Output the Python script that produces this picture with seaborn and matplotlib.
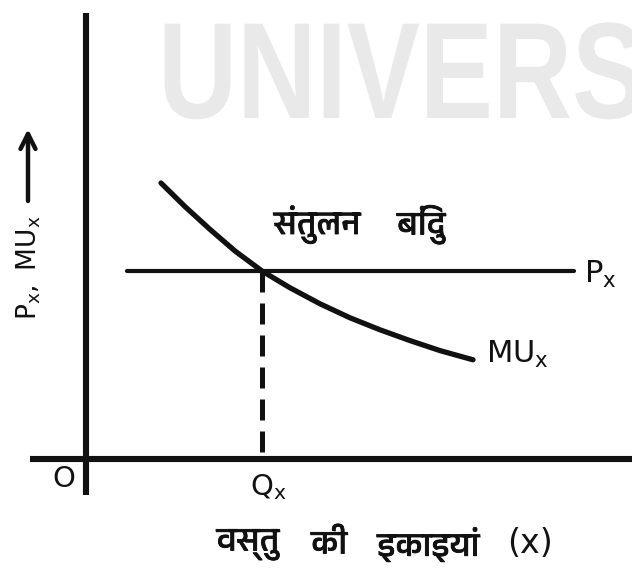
import matplotlib
matplotlib.use("Agg")
import matplotlib.pyplot as plt
import matplotlib.patheffects as pe
import pandas as pd
import seaborn as sns
from matplotlib import font_manager
from matplotlib.font_manager import FontProperties
from matplotlib.textpath import TextPath
from matplotlib.patches import PathPatch
from matplotlib.transforms import Affine2D, IdentityTransform

# Marginal utility of good x (units of x, utility per unit)
mu_quantity = [1.875, 2.475, 3.10, 3.725, 4.40, 5.10, 5.85, 6.60, 7.35,
               8.10, 8.85, 9.675]
mu_values = [6.90, 6.31, 5.74, 5.20, 4.70, 4.28, 3.88, 3.53, 3.23,
             2.96, 2.71, 2.48]

# Price line of good x
price_level = 4.7
price_span = [1.03, 12.2]

# Equilibrium quantity
q_equilibrium = 4.4

# Axis extents
x_axis_span = [-1.4, 13.8]
y_axis_span = [-0.9, 11.15]

# Annotation words and where each one sits along the x axis
eq_words = ["संतुलन", "बिंदु"]
eq_word_x = [5.78, 8.38]
x_words = ["वस्तु", "की", "इकाइयां"]
x_word_x = [4.05, 6.08, 8.56]
x_symbol = "(x)"
x_symbol_x = 11.09

label_y = r"$\mathregular{P_x,\ MU_x}$"
label_px = r"$\mathregular{P_x}$"
label_mu = r"$\mathregular{MU_x}$"
label_q = r"$\mathregular{Q_x}$"
label_o = "O"

sns.set_theme(style="white")

deva_fonts = sorted({f.name for f in font_manager.fontManager.ttflist
                     if "Devanagari" in f.name or f.name in ("Lohit Hindi", "FreeSans", "Mukta")})
deva_family = deva_fonts + ["DejaVu Sans"]
plt.rcParams["font.family"] = ["DejaVu Sans"]
plt.rcParams["mathtext.fontset"] = "dejavusans"

W, H = 632, 569
fig = plt.figure(figsize=(W / 100, H / 100), dpi=100)
ax = fig.add_axes([0, 0, 1, 1])
ax.set_xlim(-86 / 40, (W - 86) / 40)
ax.set_ylim((459 - H) / 40, 459 / 40)
ax.axis("off")

# Watermark lettering in the background
wm_prop = FontProperties(family="Liberation Sans", weight="bold")
wm_path = TextPath((0, 0), "UNIVERSITY", size=137, prop=wm_prop)
wm_tr = Affine2D().scale(0.8, 1.0).translate(158, H - 118)
ax.add_patch(PathPatch(wm_tr.transform_path(wm_path), facecolor="#e9e9e9",
                       edgecolor="none", transform=IdentityTransform(), zorder=0))

ink = "#111111"
heavy = [pe.withStroke(linewidth=0.6, foreground=ink)]

# Axes drawn as thick lines
ax.plot([0, 0], y_axis_span, color=ink, lw=4.4, solid_capstyle="butt", zorder=3)
ax.plot(x_axis_span, [0, 0], color=ink, lw=4.4, solid_capstyle="butt", zorder=3)

# Price line
price_df = pd.DataFrame({"q": price_span, "p": [price_level] * 2})
sns.lineplot(data=price_df, x="q", y="p", ax=ax, color=ink, lw=3.0,
             estimator=None, sort=False, zorder=4)

# Marginal utility curve
mu_df = pd.DataFrame({"q": mu_quantity, "mu": mu_values})
sns.lineplot(data=mu_df, x="q", y="mu", ax=ax, color=ink, lw=3.8,
             estimator=None, sort=False, zorder=4,
             solid_capstyle="round", solid_joinstyle="round")

# Drop line to the equilibrium quantity
ax.plot([q_equilibrium, q_equilibrium], [price_level, 0], color=ink, lw=3.6,
        linestyle=(0, (4.2, 2.2)), dash_capstyle="butt", zorder=3)
ax.set_xlabel("")
ax.set_ylabel("")

# Equilibrium-point caption
for word, xpos in zip(eq_words, eq_word_x):
    ax.text(xpos, 5.85, word, ha="center", va="center", fontsize=24,
            family=deva_family, color=ink, path_effects=heavy)

# Quantity-axis caption
for word, xpos in zip(x_words, x_word_x):
    ax.text(xpos, -2.15, word, ha="center", va="center", fontsize=24,
            family=deva_family, color=ink, path_effects=heavy)
ax.text(x_symbol_x, -2.12, x_symbol, ha="center", va="center", fontsize=24,
        color=ink)

ax.text(12.45, 4.4, label_px, ha="left", va="baseline", fontsize=22, color=ink)
ax.text(10.0, 2.4, label_mu, ha="left", va="baseline", fontsize=22, color=ink)
ax.text(-0.55, -0.7, label_o, ha="center", va="baseline", fontsize=21, color=ink)
ax.text(4.1, -0.9, label_q, ha="left", va="baseline", fontsize=21, color=ink)
ax.text(-1.42, 4.78, label_y, ha="center", va="center", rotation=90,
        fontsize=19, color=ink)
ax.annotate("", xy=(-1.45, 8.25), xytext=(-1.45, 6.45),
            arrowprops=dict(arrowstyle="->,head_length=0.9,head_width=0.45",
                            lw=3.2, color=ink, shrinkA=0, shrinkB=0))

fig.savefig("out.png", dpi=100)
